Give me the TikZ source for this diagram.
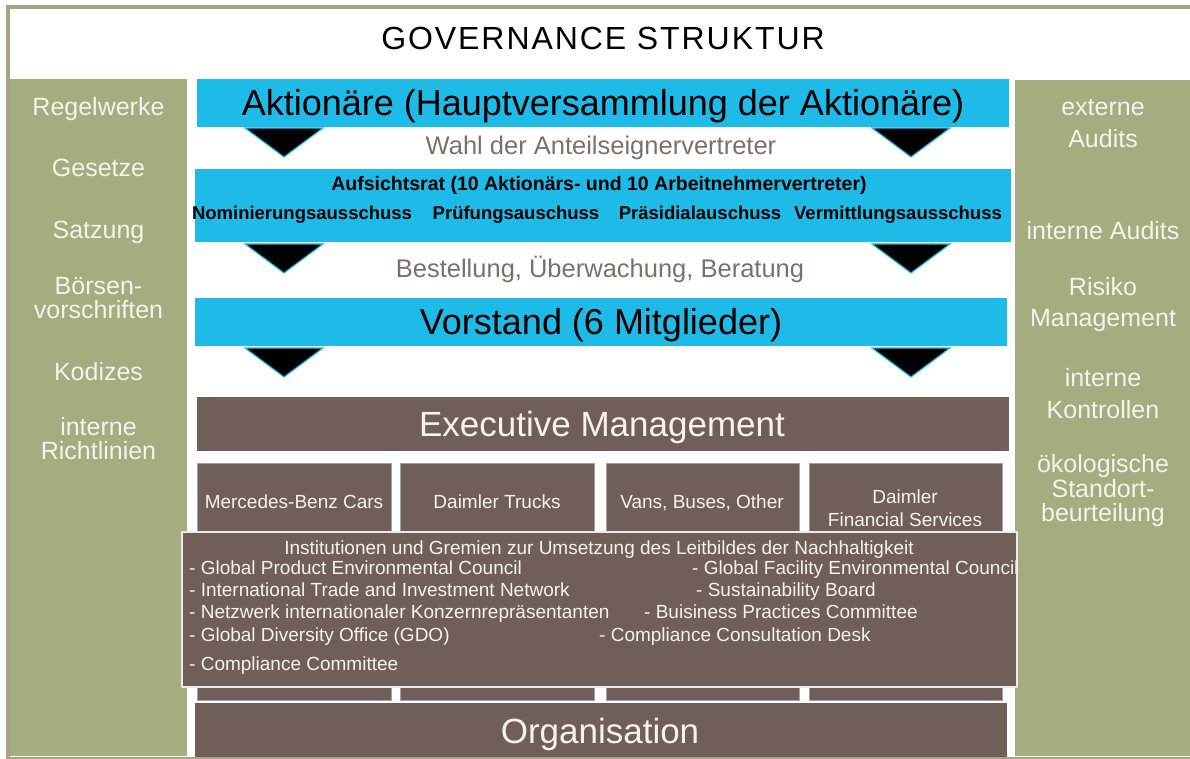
\documentclass[tikz,border=0pt]{standalone}
\usepackage{fontspec}
\setmainfont{Liberation Sans}
\definecolor{framekhaki}{HTML}{ABA283}
\definecolor{panelgreen}{HTML}{A4AC80}
\definecolor{barblue}{HTML}{1EBBE8}
\definecolor{mgmtbrown}{HTML}{705F58}
\definecolor{paneltext}{HTML}{F5F3EA}
\definecolor{boxedge}{HTML}{A89E98}
\begin{document}
\begin{tikzpicture}[x=1pt,y=-1pt, line join=round,
		fs/.style={font=\fontsize{#1}{#1}\selectfont},
		fsb/.style={font=\fontsize{#1}{#1}\selectfont\bfseries},
		bluebar/.style={fill=barblue},
		brownbar/.style={fill=mgmtbrown},
		deptbox/.style={fill=mgmtbrown,draw=boxedge,line width=0.8pt},
		downtri/.style={fill=black,draw=barblue,line width=1.2pt,line join=miter},
		paneltxt/.style={fs=25,text=paneltext,anchor=base,inner sep=0pt},
		listtxt/.style={fs=19,text=paneltext,anchor=base west,inner sep=0pt},
		darktxt/.style={anchor=base,inner sep=0pt}]
		\def\xmin{0} \def\xmax{1190}
		\def\ymin{0} \def\ymax{759}
		\useasboundingbox (\xmin,\ymin) rectangle (\xmax,\ymax);
		% frame, title band and the two side panels
		\fill[white] (\xmin,\ymin) rectangle (\xmax,\ymax);
		\fill[framekhaki] (6,5) rectangle (\xmax,\ymax);
		\fill[white] (10,9) rectangle (\xmax,757);
		\fill[panelgreen] (10,79) rectangle (187,756);
		\fill[panelgreen] (1015,80) rectangle (\xmax,756);
		\node[darktxt,fs=32] (title) at (603,50) {\addfontfeature{LetterSpace=6}GOVERNANCE STRUKTUR};
		% left panel
		\foreach \txt/\yy [count=\i] in {Regelwerke/116, Gesetze/177, Satzung/238, Börsen-/294,
			vorschriften/318, Kodizes/380, interne/435, Richtlinien/459}
			\node[paneltxt] (left\i) at (98.5,\yy) {\txt};
		% right panel
		\foreach \txt/\yy [count=\i] in {externe/116, Audits/148, interne Audits/240, Risiko/295,
			Management/326, interne/386, Kontrollen/418, ökologische/472, Standort-/497, beurteilung/521}
			\node[paneltxt] (right\i) at (1103,\yy) {\txt};
		% governing bodies
		\fill[bluebar] (197,79) rectangle (1009,127);
		\node[darktxt,fs=36] (hv) at (603,116) {Aktionäre (Hauptversammlung der Aktionäre)};
		\node[darktxt,fs=25.5,text=mgmtbrown!90] (wahl) at (601,155) {Wahl der Anteilseignervertreter};
		\fill[bluebar] (195,169) rectangle (1011,242);
		\node[darktxt,fsb=19.5] (ar) at (599,191) {Aufsichtsrat (10 Aktionärs- und 10 Arbeitnehmervertreter)};
		\node[darktxt,fsb=18.5] (nom) at (302,220) {Nominierungsausschuss};
		\node[darktxt,fsb=18.5] (pruef) at (516,220) {Prüfungsauschuss};
		\node[darktxt,fsb=18.5] (praes) at (700,220) {Präsidialauschuss};
		\node[darktxt,fsb=18.5] (verm) at (898,220) {Vermittlungsausschuss};
		\node[darktxt,fs=25.5,text=mgmtbrown!90] (best) at (600,277) {Bestellung, Überwachung, Beratung};
		\fill[bluebar] (195,298) rectangle (1007,346);
		\node[darktxt,fs=36] (vorstand) at (601,334) {Vorstand (6 Mitglieder)};
		% arrows between the levels
		\foreach \yy in {128,244,348}
			\foreach \xx in {284,911}
				\draw[downtri] (\xx-39,\yy)--(\xx+39,\yy)--(\xx,\yy+29)--cycle;
		% management and divisions
		\fill[brownbar] (197,397) rectangle (1009,451);
		\node[darktxt,fs=35,text=paneltext] (exec) at (602,436) {Executive Management};
		\foreach \xa/\xb in {197/391,400/594,606/799,809/1002}
			\draw[deptbox] (\xa,463) rectangle (\xb,700);
		\node[darktxt,fs=19,text=paneltext] (mbc) at (294,508) {Mercedes-Benz Cars};
		\node[darktxt,fs=19,text=paneltext] (dt) at (497,508) {Daimler Trucks};
		\node[darktxt,fs=19,text=paneltext] (vans) at (702,508) {Vans, Buses, Other};
		\node[darktxt,fs=19,text=paneltext] (dfs1) at (905,503) {Daimler};
		\node[darktxt,fs=19,text=paneltext] (dfs2) at (905,526) {Financial Services};
		% sustainability bodies
		\filldraw[fill=mgmtbrown,draw=white!92!black,line width=1.5pt] (182,532) rectangle (1017,687);
		\node[darktxt,fs=19,text=paneltext] (inst) at (599,554) {Institutionen und Gremien zur Umsetzung des Leitbildes der Nachhaltigkeit};
		\node[listtxt] (g1) at (189,574) {- Global Product Environmental Council};
		\node[listtxt] (g2) at (189,596) {- International Trade and Investment Network};
		\node[listtxt] (g3) at (189,618) {- Netzwerk internationaler Konzernrepräsentanten};
		\node[listtxt] (g4) at (189,641) {- Global Diversity Office (GDO)};
		\node[listtxt] (g5) at (189,670) {- Compliance Committee};
		\node[listtxt] (h1) at (692,574) {- Global Facility Environmental Council};
		\node[listtxt] (h2) at (696,596) {- Sustainability Board};
		\node[listtxt] (h3) at (644,618) {- Buisiness Practices Committee};
		\node[listtxt] (h4) at (599,641) {- Compliance Consultation Desk};
		\fill[brownbar] (195,703) rectangle (1007,757);
		\node[darktxt,fs=35,text=paneltext] (org) at (600,743) {Organisation};
	\end{tikzpicture}
\end{document}
